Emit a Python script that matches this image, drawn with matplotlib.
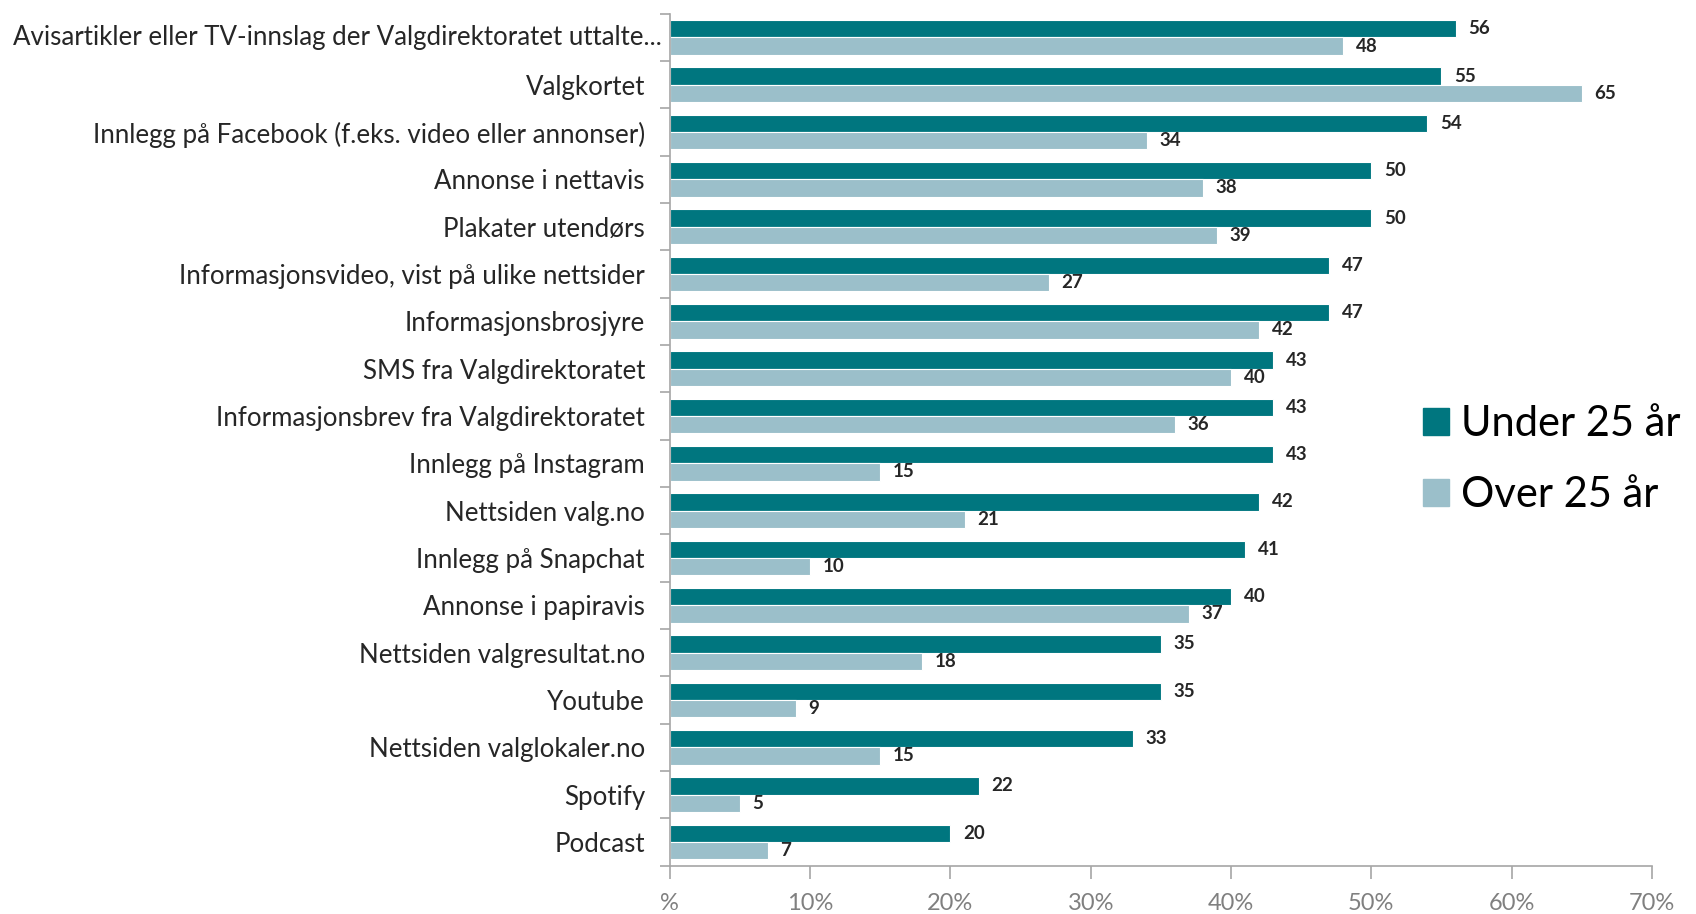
import matplotlib.pyplot as plt
from matplotlib.patches import Patch

plt.rcParams['font.family'] = ['Lato', 'DejaVu Sans']

# Data (percent), top to bottom as in the chart
categories = [
    "Avisartikler eller TV-innslag der Valgdirektoratet uttalte...",
    "Valgkortet",
    "Innlegg på Facebook (f.eks. video eller annonser)",
    "Annonse i nettavis",
    "Plakater utendørs",
    "Informasjonsvideo, vist på ulike nettsider",
    "Informasjonsbrosjyre",
    "SMS fra Valgdirektoratet",
    "Informasjonsbrev fra Valgdirektoratet",
    "Innlegg på Instagram",
    "Nettsiden valg.no",
    "Innlegg på Snapchat",
    "Annonse i papiravis",
    "Nettsiden valgresultat.no",
    "Youtube",
    "Nettsiden valglokaler.no",
    "Spotify",
    "Podcast",
]
under_25 = [56, 55, 54, 50, 50, 47, 47, 43, 43, 43, 42, 41, 40, 35, 35, 33, 22, 20]
over_25 = [48, 65, 34, 38, 39, 27, 42, 40, 36, 15, 21, 10, 37, 18, 9, 15, 5, 7]
series_names = ["Under 25 år", "Over 25 år"]
x_ticks = [0, 10, 20, 30, 40, 50, 60, 70]
x_tick_labels = ["%", "10%", "20%", "30%", "40%", "50%", "60%", "70%"]

# Colors
teal = '#00767F'
light = '#9BBFCA'
grey = '#A6A6A6'

fig = plt.figure(figsize=(16.96, 9.14), dpi=100)
ax = fig.add_axes([0.395, 0.053, 0.579, 0.932])

h = 0.365
pos = list(range(len(categories)))
bars_u = ax.barh([p - h / 2 for p in pos], under_25, height=h, color=teal,
                 edgecolor='white', linewidth=0.8)
bars_o = ax.barh([p + h / 2 for p in pos], over_25, height=h, color=light,
                 edgecolor='white', linewidth=0.8)

# Data labels
for bars, vals in [(bars_u, under_25), (bars_o, over_25)]:
    for bar, v in zip(bars, vals):
        ax.annotate(str(v), (bar.get_width(), bar.get_y() + bar.get_height() / 2),
                    xytext=(9, 0), textcoords='offset points',
                    ha='left', va='center', fontsize=13.5, fontweight='bold',
                    color='#262626')

ax.set_xlim(0, 70)
ax.set_ylim(len(categories) - 0.5, -0.5)

# Category ticks: marks between groups, labels at centres
ax.set_yticks([p - 0.5 for p in range(len(categories) + 1)])
ax.set_yticklabels([])
ax.set_yticks(pos, minor=True)
# the long (truncated) first label sits closer to the axis
ax.set_yticklabels([''] + categories[1:], minor=True, fontsize=18.6, color='#262626')
ax.annotate(categories[0], (0, pos[0]), xycoords=('axes fraction', 'data'),
            xytext=(-6, 0), textcoords='offset points', ha='right', va='center',
            fontsize=18.6, color='#262626')
ax.tick_params(axis='y', which='major', length=7, color=grey, width=1.2)
ax.tick_params(axis='y', which='minor', length=0, pad=18)

ax.set_xticks(x_ticks)
ax.set_xticklabels(x_tick_labels, fontsize=17, color='#808080')
ax.tick_params(axis='x', length=9, color=grey, width=1.2, pad=11)

for side in ['top', 'right']:
    ax.spines[side].set_visible(False)
for side in ['left', 'bottom']:
    ax.spines[side].set_color(grey)
    ax.spines[side].set_linewidth(1.2)

handles = [Patch(color=teal), Patch(color=light)]
fig.legend(handles, series_names, loc='center left', bbox_to_anchor=(0.8295, 0.497),
           frameon=False, fontsize=30, handlelength=0.62, handleheight=0.62,
           handletextpad=0.27, labelspacing=0.8, borderaxespad=0)

fig.savefig('out.png', dpi=100)
